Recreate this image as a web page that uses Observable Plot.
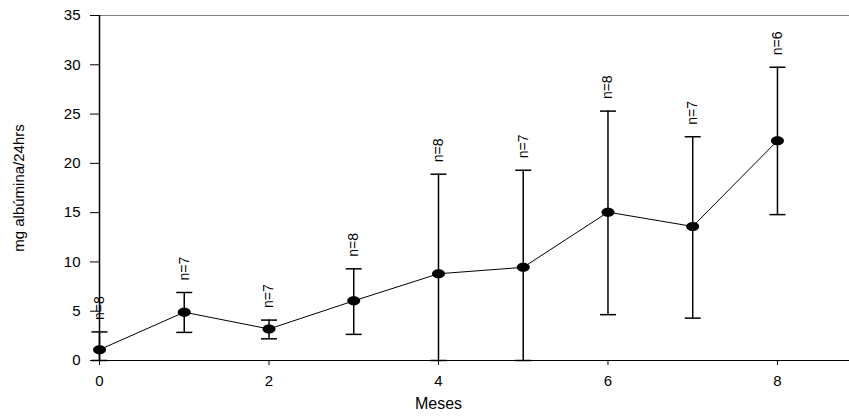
<!DOCTYPE html>
<html>
<head>
<meta charset="utf-8">
<script src="https://cdn.jsdelivr.net/npm/d3@7"></script>
<script src="https://cdn.jsdelivr.net/npm/@observablehq/plot@0.6"></script>
<style>
  html, body { margin: 0; padding: 0; background: #fff; }
  #chart svg { display: block; }
</style>
</head>
<body>
<div id="chart"></div>
<script>
// ---- data ----
const months = [0, 1, 2, 3, 4, 5, 6, 7, 8];
const means  = [1.1, 4.9, 3.2, 6.05, 8.8, 9.45, 15.05, 13.6, 22.3];
const upper  = [2.9, 6.9, 4.1, 9.3, 18.9, 19.3, 25.3, 22.7, 29.75];
const lower  = [0, 2.85, 2.2, 2.65, 0, 0, 4.65, 4.3, 14.8];
const nValues = [8, 7, 7, 8, 8, 7, 8, 7, 6];
const xTicks = [0, 2, 4, 6, 8];
const yTicks = [0, 5, 10, 15, 20, 25, 30, 35];
const xLabel = "Meses";
const yLabel = "mg albúmina/24hrs";

const data = months.map((m, i) => ({
  month: m, mean: means[i], hi: upper[i], lo: lower[i], n: "n=" + nValues[i]
}));

// custom symbols: filled ellipse marker and horizontal error-bar cap
const K = 0.5523;
const ellipse = {
  draw(ctx) {
    const rx = 6.5, ry = 4.5;
    ctx.moveTo(rx, 0);
    ctx.bezierCurveTo(rx, ry * K, rx * K, ry, 0, ry);
    ctx.bezierCurveTo(-rx * K, ry, -rx, ry * K, -rx, 0);
    ctx.bezierCurveTo(-rx, -ry * K, -rx * K, -ry, 0, -ry);
    ctx.bezierCurveTo(rx * K, -ry, rx, -ry * K, rx, 0);
    ctx.closePath();
  }
};
const cap = {
  draw(ctx) { ctx.moveTo(-8, 0); ctx.lineTo(8, 0); }
};

const chart = Plot.plot({
  width: 849,
  height: 419,
  marginLeft: 99,
  marginRight: 0,
  marginTop: 15,
  marginBottom: 59,
  style: { fontFamily: "'Liberation Sans', Arial, sans-serif", fontSize: "15px", color: "#000", background: "#fff" },
  x: { domain: [0, 8.85] },
  y: { domain: [0, 35] },
  marks: [
    Plot.ruleY([35], { stroke: "#808080", strokeWidth: 1.2 }),
    Plot.axisY({ ticks: yTicks, tickSize: 9, tickPadding: 10, label: null, fontSize: 15, stroke: "#000", strokeOpacity: 1, fill: "#000" }),
    Plot.axisX({ ticks: xTicks, tickSize: 5, tickPadding: 10, label: null, fontSize: 15, stroke: "#000", strokeOpacity: 1, fill: "#000" }),
    Plot.ruleX(data, { x: "month", y1: "lo", y2: "hi", stroke: "#000", strokeWidth: 1.5 }),
    Plot.dot(data, { x: "month", y: "hi", symbol: cap, r: 3, stroke: "#000", fill: "none", strokeWidth: 1.5 }),
    Plot.dot(data, { x: "month", y: "lo", symbol: cap, r: 3, stroke: "#000", fill: "none", strokeWidth: 1.5 }),
    Plot.line(data, { x: "month", y: "mean", stroke: "#000", strokeWidth: 1 }),
    Plot.dot(data, { x: "month", y: "mean", symbol: ellipse, r: 5, fill: "#000", stroke: "none" }),
    Plot.text(data, { x: "month", y: "hi", text: "n", rotate: -90, textAnchor: "start", dy: -12, fontSize: 14, fill: "#000" }),
    Plot.ruleX([0], { stroke: "#000", strokeWidth: 1.5 }),
    Plot.ruleY([0], { stroke: "#000", strokeWidth: 1 }),
    Plot.text([xLabel], { frameAnchor: "bottom", dx: -36, dy: 48, fontSize: 16, fill: "#000" }),
    Plot.text([yLabel], { frameAnchor: "left", textAnchor: "middle", dx: -80, rotate: -90, fontSize: 15, fill: "#000" })
  ]
});
document.getElementById("chart").appendChild(chart);
</script>
</body>
</html>
